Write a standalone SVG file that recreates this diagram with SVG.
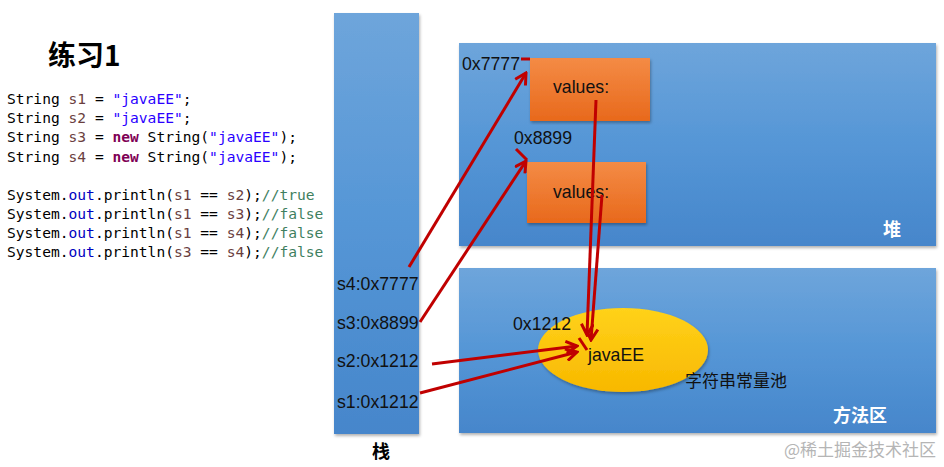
<svg xmlns="http://www.w3.org/2000/svg" width="944" height="467" viewBox="0 0 944 467">
<style>
.code{font-family:"DejaVu Sans Mono","Liberation Mono",monospace;font-size:14.6px;fill:#000}
.v{fill:#6a3e3e}.s{fill:#2a00ff}.k{fill:#7f0055;font-weight:bold}.o{fill:#0000c0}.c{fill:#3f7f5f}
.lbl{font-family:"Liberation Sans",Arial,sans-serif;font-size:17.7px;fill:#111}
.zh{font-family:"Noto Sans CJK SC",sans-serif;font-weight:bold;font-size:18px}
.arrow{stroke:#c00000;stroke-width:3;fill:none;marker-end:url(#ah)}
.mark{stroke:#c00000;stroke-width:3;fill:none}
</style>
<defs>
<linearGradient id="blue" x1="0" y1="0" x2="0" y2="1"><stop offset="0" stop-color="#6ea5db"/><stop offset="0.5" stop-color="#5596d6"/><stop offset="1" stop-color="#4686cb"/></linearGradient>
<linearGradient id="orange" x1="0" y1="0" x2="0" y2="1"><stop offset="0" stop-color="#f48b45"/><stop offset="1" stop-color="#e8691c"/></linearGradient>
<linearGradient id="yellow" x1="0" y1="0" x2="0" y2="1"><stop offset="0" stop-color="#ffd21a"/><stop offset="1" stop-color="#f8b800"/></linearGradient>
<filter id="sh" x="-5%" y="-5%" width="110%" height="110%"><feDropShadow dx="1" dy="2" stdDeviation="1.5" flood-color="#000" flood-opacity="0.3"/></filter>
<marker id="ah" viewBox="0 0 14 14" refX="12" refY="7" markerWidth="14" markerHeight="14" markerUnits="userSpaceOnUse" orient="auto"><path d="M1,1 L12,7 L1,13" fill="none" stroke="#c00000" stroke-width="3"/></marker>
</defs>
<rect width="944" height="467" fill="#fff"/>

<g id="code">
<text x="48" y="66" style="font-family:'Noto Sans CJK SC',sans-serif;font-weight:bold;font-size:28px">练习1</text>
<text class="code" x="7" y="104">String <tspan class="v">s1</tspan> = <tspan class="s">"javaEE"</tspan>;</text>
<text class="code" x="7" y="123">String <tspan class="v">s2</tspan> = <tspan class="s">"javaEE"</tspan>;</text>
<text class="code" x="7" y="142">String <tspan class="v">s3</tspan> = <tspan class="k">new</tspan> String(<tspan class="s">"javaEE"</tspan>);</text>
<text class="code" x="7" y="162">String <tspan class="v">s4</tspan> = <tspan class="k">new</tspan> String(<tspan class="s">"javaEE"</tspan>);</text>
<text class="code" x="7" y="200">System.<tspan class="o">out</tspan>.println(<tspan class="v">s1</tspan> == <tspan class="v">s2</tspan>);<tspan class="c">//true</tspan></text>
<text class="code" x="7" y="219">System.<tspan class="o">out</tspan>.println(<tspan class="v">s1</tspan> == <tspan class="v">s3</tspan>);<tspan class="c">//false</tspan></text>
<text class="code" x="7" y="238">System.<tspan class="o">out</tspan>.println(<tspan class="v">s1</tspan> == <tspan class="v">s4</tspan>);<tspan class="c">//false</tspan></text>
<text class="code" x="7" y="257">System.<tspan class="o">out</tspan>.println(<tspan class="v">s3</tspan> == <tspan class="v">s4</tspan>);<tspan class="c">//false</tspan></text>
</g>

<g id="stack">
<rect x="334" y="13" width="85" height="421" fill="url(#blue)" filter="url(#sh)"/>
<text class="lbl" x="337" y="290">s4:0x7777</text>
<text class="lbl" x="337" y="329">s3:0x8899</text>
<text class="lbl" x="337" y="367">s2:0x1212</text>
<text class="lbl" x="337" y="408">s1:0x1212</text>
<text class="zh" x="372" y="458" fill="#000">栈</text>
</g>

<g id="heap">
<rect x="459" y="43" width="477" height="203" fill="url(#blue)" filter="url(#sh)"/>
<text class="zh" x="883" y="236" fill="#fff">堆</text>
</g>

<g id="method-area">
<rect x="459" y="268" width="477" height="165" fill="url(#blue)" filter="url(#sh)"/>
<text class="zh" x="833" y="422" fill="#fff">方法区</text>
</g>

<g id="obj-0x7777">
<rect x="530" y="58" width="120" height="63" fill="url(#orange)" filter="url(#sh)"/>
<text class="lbl" x="553" y="93">values:</text>
<text class="lbl" x="462" y="70">0x7777</text>
</g>

<g id="obj-0x8899">
<rect x="527" y="162" width="119" height="61" fill="url(#orange)" filter="url(#sh)"/>
<text class="lbl" x="553" y="198">values:</text>
<text class="lbl" x="514" y="144">0x8899</text>
</g>

<g id="string-pool">
<ellipse cx="623" cy="350" rx="85" ry="42" fill="url(#yellow)" filter="url(#sh)"/>
<text class="lbl" x="588" y="361">javaEE</text>
<text class="lbl" x="513" y="330">0x1212</text>
<text x="685" y="387" style="font-family:'Noto Sans CJK SC',sans-serif;font-size:17px" fill="#111">字符串常量池</text>
</g>

<g id="connectors">
<line class="arrow" x1="409" y1="267" x2="526" y2="73"/>
<line class="arrow" x1="420" y1="322" x2="526" y2="161"/>
<line class="arrow" x1="596" y1="100" x2="587" y2="335"/>
<line class="arrow" x1="602" y1="195" x2="591" y2="340"/>
<line class="arrow" x1="432" y1="364" x2="577" y2="346"/>
<line class="arrow" x1="420" y1="393" x2="577" y2="352"/>
<line class="mark" x1="521" y1="59" x2="530" y2="59"/>
<line class="mark" x1="516" y1="149" x2="527" y2="160"/>
<line class="mark" x1="579" y1="338" x2="587" y2="350"/>
</g>

<text x="936" y="456" text-anchor="end" style="font-family:'Noto Sans CJK SC',sans-serif;font-size:17px" fill="#b5b5b5">@稀土掘金技术社区</text>
</svg>
